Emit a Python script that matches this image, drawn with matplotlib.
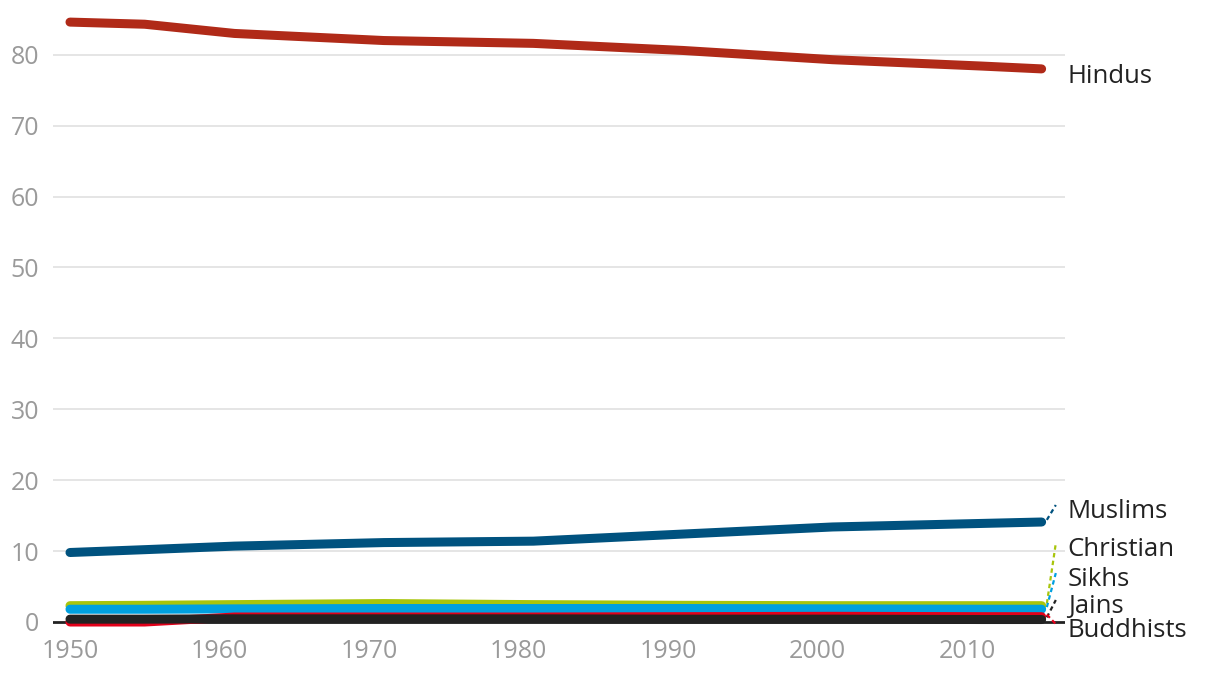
import matplotlib
matplotlib.use("Agg")
import matplotlib.pyplot as plt

years = [1950, 1955, 1961, 1971, 1981, 1991, 2001, 2011, 2015]

hindus = [84.6, 84.3, 83.0, 82.0, 81.6, 80.6, 79.3, 78.4, 78.0]
muslims = [9.8, 10.2, 10.7, 11.2, 11.4, 12.4, 13.4, 13.9, 14.1]
christians = [2.3, 2.35, 2.45, 2.6, 2.45, 2.35, 2.3, 2.3, 2.3]
sikhs = [1.8, 1.8, 1.85, 1.9, 1.9, 1.9, 1.85, 1.8, 1.8]
buddhists = [0.0, 0.0, 0.7, 0.7, 0.7, 0.75, 0.8, 0.75, 0.75]
jains = [0.4, 0.4, 0.45, 0.45, 0.45, 0.4, 0.4, 0.35, 0.35]

names = ["Hindus", "Muslims", "Christian", "Sikhs", "Jains", "Buddhists"]
label_y = [76.9, 15.6, 10.2, 6.0, 2.2, -1.2]

plt.rcParams["font.family"] = ["Open Sans", "DejaVu Sans"]

fig = plt.figure(figsize=(12.2, 6.76), dpi=100)
ax = fig.add_axes([0.0434, 0.0673, 0.8295, 0.9105])

ax.set_xlim(1948.86, 2016.56)
ax.set_ylim(-1.2, 85.6)

for v in range(10, 90, 10):
    ax.axhline(v, color="#e3e3e3", lw=1.3, zorder=0)
ax.axhline(0, color="#222222", lw=2, zorder=1)

series = [
    (christians, "#a8c50c", "Christian"),
    (sikhs, "#00a0df", "Sikhs"),
    (buddhists, "#e2001a", "Buddhists"),
    (jains, "#222222", "Jains"),
    (muslims, "#00527f", "Muslims"),
    (hindus, "#b02a18", "Hindus"),
]
for vals, col, name in series:
    ax.plot(years, vals, color=col, lw=6.5, solid_capstyle="round",
            solid_joinstyle="round", zorder=3)

# labels with dashed leaders
colors = {name: col for _, col, name in series}
values = {name: vals[-1] for vals, _, name in series}
for name, ly in zip(names, label_y):
    end = values[name]
    if name != "Hindus":
        ax.plot([2015.35, 2015.95], [end + 0.3, ly + 0.9], color=colors[name],
                lw=1.6, ls=(0, (2, 1.5)), zorder=2, clip_on=False)
    ax.text(2016.75, ly, name, fontsize=18.5, color="#222222",
            va="center", ha="left", clip_on=False)

ax.set_yticks(range(0, 90, 10))
ax.set_xticks(range(1950, 2020, 10))
ax.tick_params(length=0, labelsize=18, labelcolor="#9a9a9a")
ax.tick_params(axis="x", pad=6)
ax.tick_params(axis="y", pad=10)
for s in ax.spines.values():
    s.set_visible(False)

fig.savefig("out.png", dpi=100)
